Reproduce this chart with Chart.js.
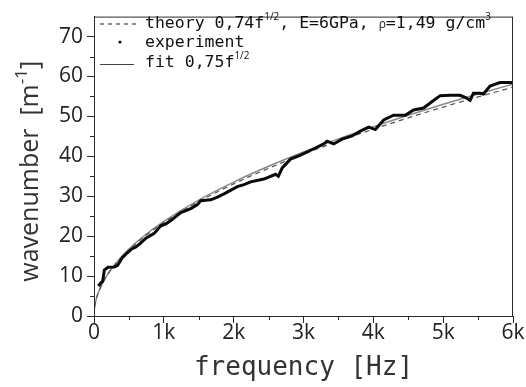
<!DOCTYPE html>
<html>
<head>
<meta charset="utf-8">
<script src="https://cdn.jsdelivr.net/npm/chart.js@4/dist/chart.umd.min.js"></script>
<style>
    body { margin: 0; background: #fff; }
    canvas { display: block; }
</style>
</head>
<body>
<canvas id="chart" width="526" height="387"></canvas>
<script>
// frequency samples for the theory / fit curves [Hz]
var curveFreq = [0, 10, 25, 50, 100, 200, 300, 500, 750, 1000, 1500, 2000, 2500, 3000, 3500, 4000, 4500, 5000, 5500, 6000]
var theoryVals = [0, 2.34, 3.70, 5.23, 7.40, 10.47, 12.82, 16.55, 20.27, 23.40, 28.66, 33.09, 37.00, 40.53, 43.78, 46.80, 49.64, 52.33, 54.88, 57.32]
var fitVals = [0, 2.37, 3.75, 5.30, 7.50, 10.61, 12.99, 16.77, 20.54, 23.72, 29.05, 33.54, 37.50, 41.08, 44.37, 47.43, 50.31, 53.03, 55.62, 58.09]

var expFreq = [62, 100, 124, 138, 148, 200, 290, 338, 410, 481, 540, 600, 671, 743, 862, 957, 1029, 1100, 1243, 1386,
    1481, 1529, 1671, 1767, 1862, 2052, 2148, 2243, 2433, 2600, 2640, 2695, 2814, 2957, 3148, 3290, 3338, 3433, 3552, 3695,
    3814, 3933, 4029, 4148, 4290, 4457, 4576, 4719, 4862, 4957, 5100, 5243, 5314, 5386, 5433, 5529, 5576, 5671, 5814, 5957, 6000]
var expVals = [7.5, 8.3, 8.7, 10.3, 11.5, 12.2, 12.3, 12.7, 14.7, 15.9, 16.8, 17.3, 18.3, 19.5, 20.7, 22.6, 23.1, 23.9, 25.9, 26.9,
    27.9, 28.9, 29.1, 29.8, 30.6, 32.4, 32.9, 33.6, 34.3, 35.5, 35.0, 37.1, 39.3, 40.3, 41.9, 43.1, 43.8, 43.1, 44.3, 45.1,
    46.3, 47.3, 46.7, 49.1, 50.3, 50.3, 51.6, 52.1, 54.0, 55.2, 55.3, 55.3, 54.8, 54.0, 55.8, 55.8, 55.6, 57.6, 58.5, 58.5, 58.4]

var xTicks = [0, 1000, 2000, 3000, 4000, 5000, 6000]
var xTickLabels = ['0', '1k', '2k', '3k', '4k', '5k', '6k']
var yTicks = [0, 10, 20, 30, 40, 50, 60, 70]

function pts(xs, ys) {
    return xs.map(function (x, i) { return {x: x, y: ys[i]} })
}

var MONO = '"DejaVu Sans Mono", "Liberation Mono", monospace'
var SANS = '"Open Sans", "Noto Sans", sans-serif'
var AXIS = '#2a2a2a'
var LEG = '16.5px ' + MONO

// draws runs of text, some raised as superscripts
function drawRuns(ctx, runs, x, y) {
    runs.forEach(function (r) {
        ctx.font = r.font
        ctx.fillText(r.t, x, y - (r.up || 0))
        x += ctx.measureText(r.t).width
    })
    return x
}
function runsWidth(ctx, runs) {
    var w = 0
    runs.forEach(function (r) { ctx.font = r.font; w += ctx.measureText(r.t).width })
    return w
}

var decorations = {
    id: 'decorations',
    afterDraw: function (chart) {
        var ctx = chart.ctx
        var a = chart.chartArea
        var xs = chart.scales.x, ys = chart.scales.y
        ctx.save()

        // frame
        ctx.strokeStyle = AXIS
        ctx.lineWidth = 1
        ctx.strokeRect(a.left + 0.5, a.top + 0.5, a.right - a.left - 1, a.bottom - a.top)

        // minor ticks
        ctx.beginPath()
        for (var f = 500; f < 6000; f += 1000) {
            var px = Math.round(xs.getPixelForValue(f)) + 0.5
            ctx.moveTo(px, a.bottom); ctx.lineTo(px, a.bottom + 4)
        }
        for (var v = 5; v < 75; v += 10) {
            var py = Math.round(ys.getPixelForValue(v)) + 0.5
            ctx.moveTo(a.left, py); ctx.lineTo(a.left - 4, py)
        }
        ctx.stroke()

        // axis titles
        ctx.fillStyle = '#333'
        ctx.textBaseline = 'alphabetic'
        ctx.textAlign = 'left'
        ctx.font = '26px ' + MONO
        var xt = 'frequency [Hz]'
        ctx.fillText(xt, (a.left + a.right) / 2 - ctx.measureText(xt).width / 2, 375)

        var yRuns = [
            {t: 'wavenumber  [m', font: '25px ' + SANS},
            {t: '-1', font: '17px ' + SANS, up: 11},
            {t: ']', font: '25px ' + SANS}
        ]
        ctx.save()
        ctx.translate(38, (a.top + a.bottom) / 2 + 5)
        ctx.rotate(-Math.PI / 2)
        drawRuns(ctx, yRuns, -runsWidth(ctx, yRuns) / 2, 0)
        ctx.restore()

        // legend
        ctx.fillStyle = '#111'
        ctx.strokeStyle = '#444'
        ctx.lineWidth = 1.2
        ctx.setLineDash([4, 4])
        ctx.beginPath(); ctx.moveTo(100, 24); ctx.lineTo(138, 24); ctx.stroke()
        ctx.setLineDash([])
        drawRuns(ctx, [
            {t: 'theory 0,74f', font: LEG},
            {t: '1/2', font: '10px ' + SANS, up: 8},
            {t: ', E=6GPa, ', font: LEG},
            {t: 'ρ', font: '12px ' + SANS},
            {t: '=1,49 g/cm', font: LEG},
            {t: '3', font: '10px ' + SANS, up: 8}
        ], 145, 28)

        ctx.beginPath(); ctx.arc(120, 42, 1.6, 0, Math.PI * 2); ctx.fill()
        drawRuns(ctx, [{t: 'experiment', font: LEG}], 145, 47)

        ctx.strokeStyle = '#444'
        ctx.lineWidth = 1
        ctx.beginPath(); ctx.moveTo(100, 64.5); ctx.lineTo(134, 64.5); ctx.stroke()
        drawRuns(ctx, [
            {t: 'fit 0,75f', font: LEG},
            {t: '1/2', font: '10px ' + SANS, up: 8}
        ], 145, 67)

        ctx.restore()
    }
}

new Chart(document.getElementById('chart'), {
    type: 'line',
    data: {
        datasets: [
            {
                label: 'experiment',
                data: pts(expFreq, expVals),
                borderColor: '#0a0a0a',
                borderWidth: 3,
                pointRadius: 0,
                tension: 0
            },
            {
                label: 'theory',
                data: pts(curveFreq, theoryVals),
                borderColor: '#555',
                borderWidth: 1.2,
                borderDash: [5, 4],
                pointRadius: 0,
                cubicInterpolationMode: 'monotone'
            },
            {
                label: 'fit',
                data: pts(curveFreq, fitVals),
                borderColor: '#8a8a8a',
                borderWidth: 1.5,
                pointRadius: 0,
                cubicInterpolationMode: 'monotone'
            }
        ]
    },
    options: {
        responsive: false,
        animation: false,
        devicePixelRatio: 1,
        layout: {padding: {top: 5, right: 13, left: 0, bottom: 0}},
        plugins: {legend: {display: false}, tooltip: {enabled: false}},
        scales: {
            x: {
                type: 'linear',
                min: 0, max: 6000,
                afterFit: function (s) { s.height = 71 },
                afterBuildTicks: function (s) { s.ticks = xTicks.map(function (v) { return {value: v} }) },
                grid: {drawOnChartArea: false, drawTicks: true, tickLength: 7, color: AXIS},
                border: {color: AXIS, width: 1},
                ticks: {
                    color: '#222',
                    font: {family: SANS, size: 21},
                    padding: -3,
                    maxRotation: 0,
                    callback: function (v) { return xTickLabels[xTicks.indexOf(v)] }
                }
            },
            y: {
                type: 'linear',
                min: 0, max: 75,
                afterFit: function (s) { s.width = 94 },
                afterBuildTicks: function (s) { s.ticks = yTicks.map(function (v) { return {value: v} }) },
                grid: {drawOnChartArea: false, drawTicks: true, tickLength: 7, color: AXIS},
                border: {color: AXIS, width: 1},
                ticks: {
                    color: '#222',
                    font: {family: SANS, size: 21},
                    padding: 4
                }
            }
        }
    },
    plugins: [decorations]
})
</script>
</body>
</html>
